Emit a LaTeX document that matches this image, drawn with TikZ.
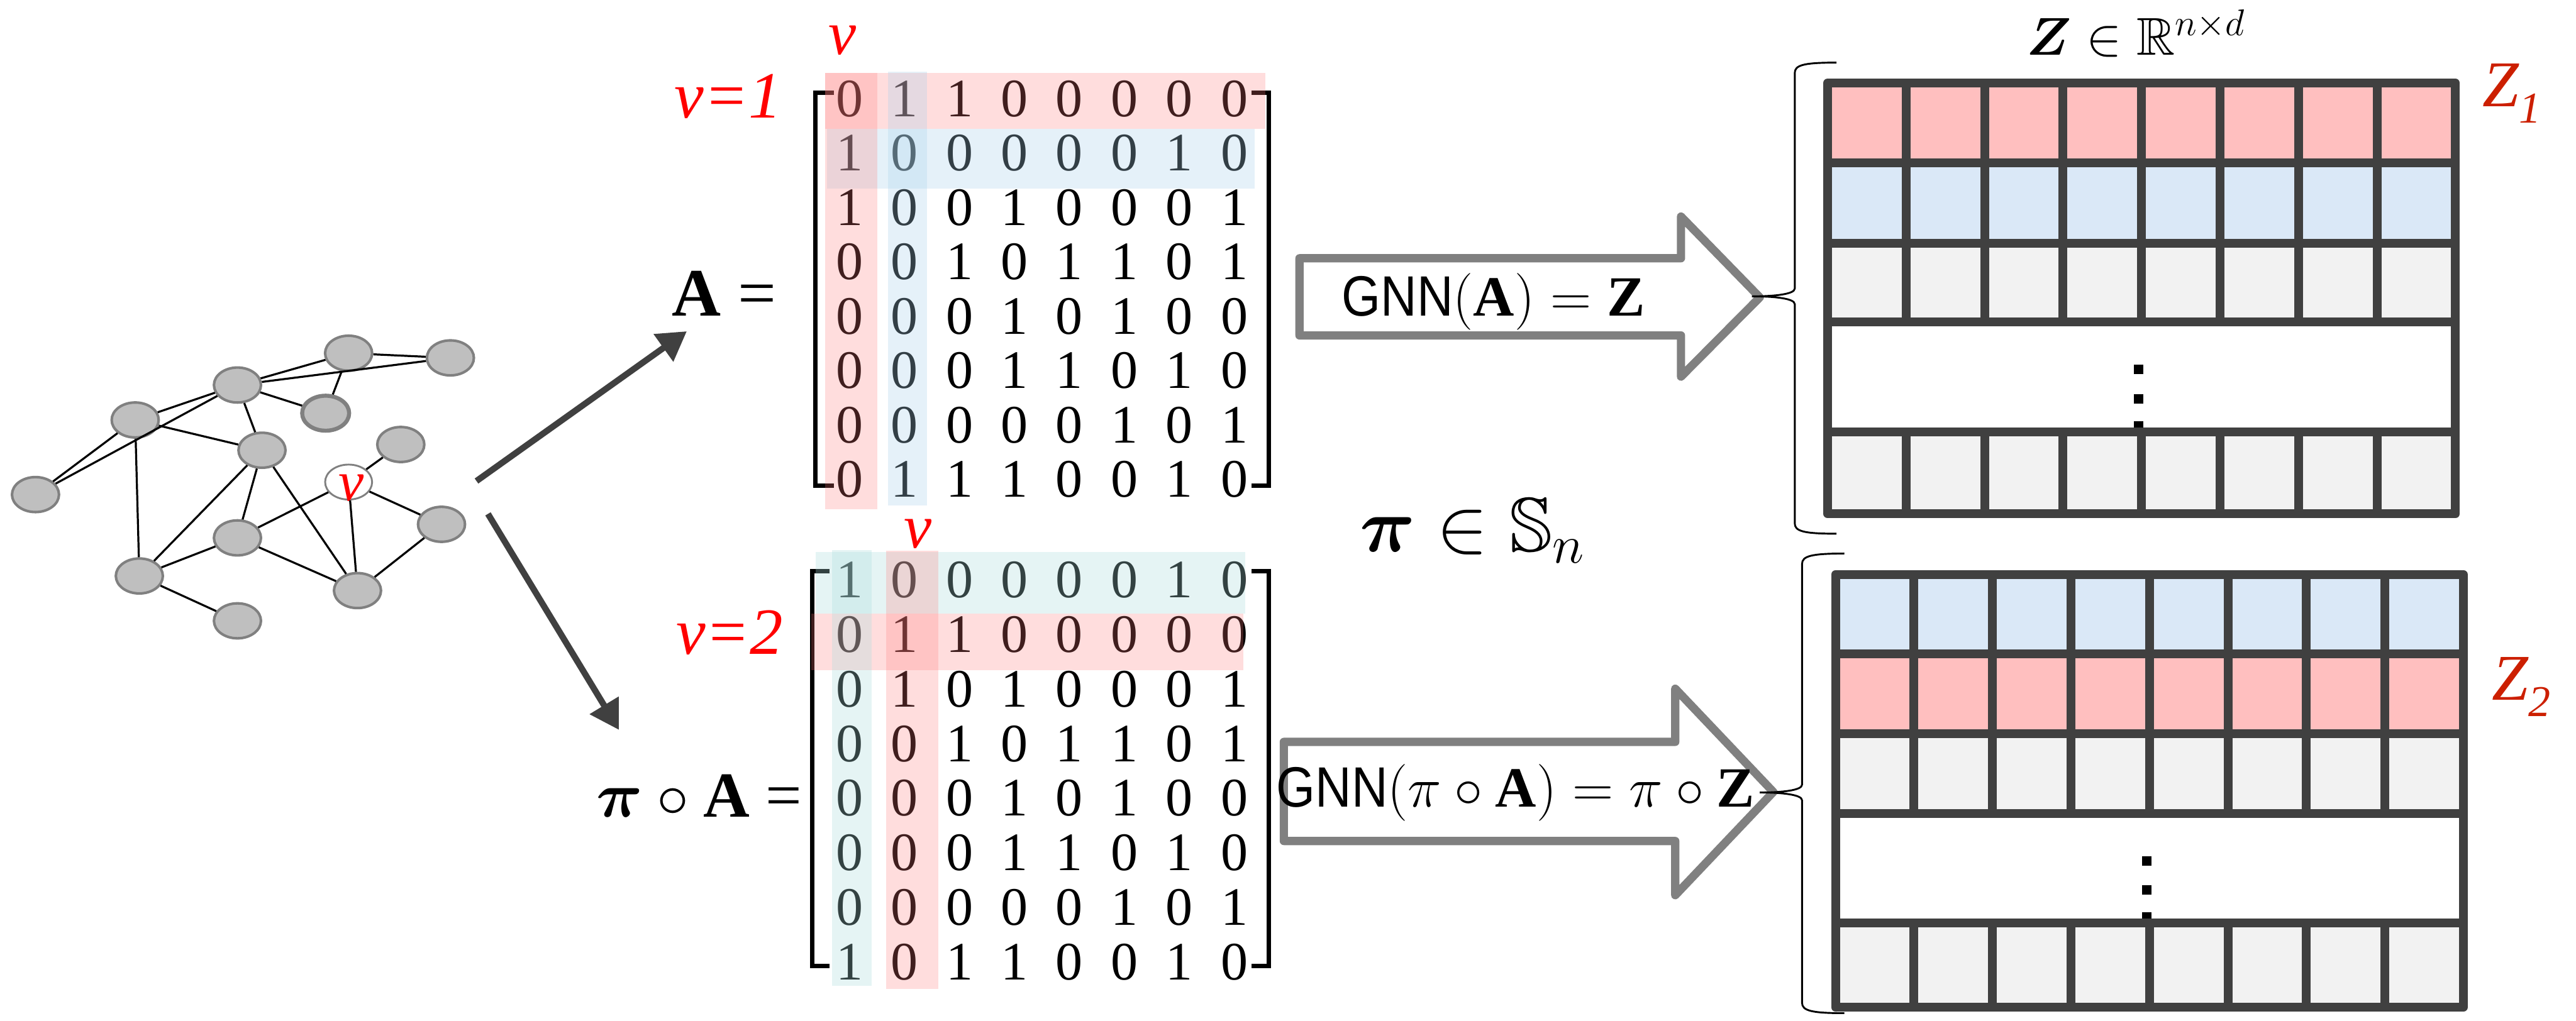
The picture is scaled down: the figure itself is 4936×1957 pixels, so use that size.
\RequirePackage{fix-cm}
\documentclass[tikz,border=0pt]{standalone}
\usepackage{amsmath,amssymb}
\usepackage{fontspec}
\setmainfont{Liberation Serif}
\newfontfamily\gnnfont{Liberation Sans}
\usetikzlibrary{arrows.meta,shapes.geometric}

\definecolor{nodefill}{HTML}{BFBFBF}
\definecolor{nodeline}{HTML}{808080}
\definecolor{darkarrow}{HTML}{404040}
\definecolor{fatgray}{HTML}{808080}
\definecolor{griddark}{HTML}{404040}
\definecolor{zpink}{HTML}{FFBFBF}
\definecolor{zblue}{HTML}{DAE8F7}
\definecolor{zgray}{HTML}{F2F2F2}
\definecolor{zred}{HTML}{CC1F00}
\definecolor{vred}{HTML}{FF0000}
\definecolor{bandred}{RGB}{255,120,120}
\definecolor{bandblue}{RGB}{170,210,235}
\definecolor{bandteal}{RGB}{170,220,220}

\begin{document}
\begin{tikzpicture}[x=0.01cm,y=-0.01cm,
  gnode/.style={ellipse, draw=nodeline, fill=nodefill, line width=1.4pt,
                minimum width=0.9cm, minimum height=0.67cm, inner sep=0pt},
  vnode/.style={gnode, fill=white, line width=1pt},
  gedge/.style={line width=1.1pt, black},
  maparrow/.style={line width=3.4pt, draw=darkarrow,
                   -{Triangle[length=0.55cm,width=0.62cm]}},
  fatarrow/.style={draw=fatgray, fill=white, line width=4.5pt, line join=round},
  bracket/.style={line width=2.3pt, black},
  gridline/.style={draw=griddark, line width=4.8pt},
  digit/.style={font=\fontsize{29.5}{30}\selectfont, inner sep=0pt, anchor=base},
  curly/.style={line width=1pt, black},
  lbl/.style={inner sep=0pt, anchor=base}]

\useasboundingbox (0,0) rectangle (4936,1957);

% ---------------- input graph ----------------
\node[gnode] (g1) at (668,677) {};
\node[gnode] (g2) at (863,686) {};
\node[gnode] (g3) at (455,738) {};
\node[gnode, line width=2.2pt] (g4) at (624,792) {};
\node[gnode] (g5) at (259,805) {};
\node[gnode] (g6) at (502,863) {};
\node[gnode] (g7) at (768,852) {};
\node[vnode] (gv) at (668,924) {};
\node[gnode] (g9) at (68,948) {};
\node[gnode] (g10) at (846,1005) {};
\node[gnode] (g11) at (455,1031) {};
\node[gnode] (g12) at (267,1104) {};
\node[gnode] (g13) at (685,1132) {};
\node[gnode] (g14) at (455,1190) {};
\node[lbl, font=\fontsize{31}{33}\selectfont\itshape, text=vred] (gvl) at (673,960) {v};

\foreach \a/\b in {g3/g1, g1/g2, g3/g2, g1/g4, g3/g4, g5/g3, g3/g9, g3/g6,
                   g5/g6, g5/g9, g5/g12, g6/g12, g6/g11, g6/g13, gv/g7,
                   gv/g10, gv/g11, gv/g13, g10/g13, g11/g12, g11/g13, g12/g14}
  \draw[gedge] (\a) -- (\b);

% ---------------- arrows to the two matrices ----------------
\coordinate (outA) at (913,922);
\coordinate (inA) at (1316,635);
\coordinate (outPA) at (935,985);
\coordinate (inPA) at (1186,1399);
\draw[maparrow] (outA) -- (inA);
\draw[maparrow] (outPA) -- (inPA);

% ---------------- adjacency matrix A ----------------
\node[lbl, font=\fontsize{37}{40}\selectfont] (eqA) at (1388,606) {$\mathbf{A}$ =};
\foreach \row [count=\i from 0] in {{0,1,1,0,0,0,0,0},{1,0,0,0,0,0,1,0},
    {1,0,0,1,0,0,0,1},{0,0,1,0,1,1,0,1},{0,0,0,1,0,1,0,0},
    {0,0,0,1,1,0,1,0},{0,0,0,0,0,1,0,1},{0,1,1,1,0,0,1,0}}
  \foreach \val [count=\j from 0] in \row
    \node[digit] (ma-\i-\j) at ({1628+105.3*\j},{223+104.3*\i}) {\val};
\draw[bracket] (1598,178) -- (1562,178) -- (1562,931) -- (1598,931);
\draw[bracket] (2398,178) -- (2431,178) -- (2431,931) -- (2398,931);
\fill[bandred, opacity=0.25] (1581,140) rectangle (2425,247);
\fill[bandblue, opacity=0.3] (1585,247) rectangle (2404,362);
\fill[bandred, opacity=0.25] (1581,140) rectangle (1681,976);
\fill[bandblue, opacity=0.3] (1701,137) rectangle (1776,969);
\node[lbl, font=\fontsize{34}{36}\selectfont\itshape, text=vred] (va) at (1614,104) {v};
\node[lbl, font=\fontsize{36}{40}\selectfont\itshape, text=vred] (v1) at (1395,226) {v=1};

% ---------------- permuted matrix ----------------
\node[lbl, font=\fontsize{35}{40}\selectfont] (eqPA) at (1340,1566)
  {$\boldsymbol{\pi}\circ\mathbf{A}$ =};
\foreach \row [count=\i from 0] in {{1,0,0,0,0,0,1,0},{0,1,1,0,0,0,0,0},
    {0,1,0,1,0,0,0,1},{0,0,1,0,1,1,0,1},{0,0,0,1,0,1,0,0},
    {0,0,0,1,1,0,1,0},{0,0,0,0,0,1,0,1},{1,0,1,1,0,0,1,0}}
  \foreach \val [count=\j from 0] in \row
    \node[digit] (mb-\i-\j) at ({1628+105.3*\j},{1146+104.5*\i}) {\val};
\draw[bracket] (1590,1095) -- (1556,1095) -- (1556,1852) -- (1590,1852);
\draw[bracket] (2398,1095) -- (2431,1095) -- (2431,1852) -- (2398,1852);
\fill[bandteal, opacity=0.3] (1563,1058) rectangle (2386,1176);
\fill[bandred, opacity=0.25] (1555,1176) rectangle (2383,1285);
\fill[bandteal, opacity=0.3] (1594,1055) rectangle (1670,1890);
\fill[bandred, opacity=0.25] (1698,1056) rectangle (1798,1895);
\node[lbl, font=\fontsize{34}{36}\selectfont\itshape, text=vred] (vb) at (1759,1050) {v};
\node[lbl, font=\fontsize{36}{40}\selectfont\itshape, text=vred] (v2) at (1398,1254) {v=2};

% ---------------- GNN block arrows ----------------
\draw[fatarrow] (2490,495) -- (3221,495) -- (3221,415) -- (3372,570)
  -- (3221,722) -- (3221,643) -- (2490,643) -- cycle;
\draw[fatarrow] (2460,1422) -- (3210,1422) -- (3210,1320) -- (3398,1518)
  -- (3210,1716) -- (3210,1612) -- (2460,1612) -- cycle;
\node[lbl, font=\fontsize{31}{34}\selectfont] (gnn1) at (2862,606)
  {\scalebox{0.88}[1]{\gnnfont GNN}$(\mathbf{A}) = \mathbf{Z}$};
\node[lbl, font=\fontsize{31}{34}\selectfont] (gnn2) at (2904,1547)
  {\scalebox{0.88}[1]{\gnnfont GNN}$(\pi\circ\mathbf{A}) = \pi\circ\mathbf{Z}$};
\node[lbl, font=\fontsize{42}{46}\selectfont] (perm) at (2821,1057)
  {$\boldsymbol{\pi}\in\mathbb{S}_n$};

% ---------------- braces ----------------
\draw[curly] (3519,120) .. controls (3455,120) and (3439,125) .. (3439,140)
  -- (3439,553) .. controls (3439,564) and (3400,568) .. (3357,568)
  .. controls (3400,568) and (3439,572) .. (3439,583)
  -- (3439,1003) .. controls (3439,1018) and (3455,1023) .. (3519,1023);
\draw[curly] (3534,1061) .. controls (3470,1061) and (3453,1066) .. (3453,1081)
  -- (3453,1504) .. controls (3453,1515) and (3414,1519) .. (3372,1519)
  .. controls (3414,1519) and (3453,1523) .. (3453,1534)
  -- (3453,1922) .. controls (3453,1937) and (3470,1942) .. (3534,1942);

% ---------------- embedding Z ----------------
\fill[zpink] (3502,159) rectangle (4705,312);
\fill[zblue] (3502,312) rectangle (4705,466);
\fill[zgray] (3502,466) rectangle (4705,617);
\fill[zgray] (3502,828) rectangle (4705,985);
\foreach \y in {708,765,816}
  \fill[black] (4089,\y-9) rectangle (4107,\y+9);
\foreach \y in {312,466,617,828}
  \draw[gridline] (3502,\y) -- (4705,\y);
\foreach \k in {1,...,7} {
  \draw[gridline] ({3502+150.4*\k},159) -- ({3502+150.4*\k},617);
  \draw[gridline] ({3502+150.4*\k},828) -- ({3502+150.4*\k},985);
}
\draw[gridline, line join=round] (3502,159) rectangle (4705,985);
\node[lbl, font=\fontsize{29}{31}\selectfont] (zlab) at (4093,105)
  {$\boldsymbol{Z}\in\mathbb{R}^{n\times d}$};
\node[lbl, font=\fontsize{35.6}{38}\selectfont\itshape, text=zred] (z1) at (4813,204)
  {Z\raisebox{-9pt}{\fontsize{24}{26}\selectfont 1}};

% ---------------- permuted embedding ----------------
\fill[zblue] (3517,1101) rectangle (4720,1253);
\fill[zpink] (3517,1253) rectangle (4720,1406);
\fill[zgray] (3517,1406) rectangle (4720,1559);
\fill[zgray] (3517,1769) rectangle (4720,1931);
\foreach \y in {1650,1706,1757}
  \fill[black] (4104,\y-9) rectangle (4122,\y+9);
\foreach \y in {1253,1406,1559,1769}
  \draw[gridline] (3517,\y) -- (4720,\y);
\foreach \k in {1,...,7} {
  \draw[gridline] ({3517+150.4*\k},1101) -- ({3517+150.4*\k},1559);
  \draw[gridline] ({3517+150.4*\k},1769) -- ({3517+150.4*\k},1931);
}
\draw[gridline, line join=round] (3517,1101) rectangle (4720,1931);
\node[lbl, font=\fontsize{35.6}{38}\selectfont\itshape, text=zred] (z2) at (4831,1342)
  {Z\raisebox{-9pt}{\fontsize{24}{26}\selectfont 2}};

\end{tikzpicture}
\end{document}
